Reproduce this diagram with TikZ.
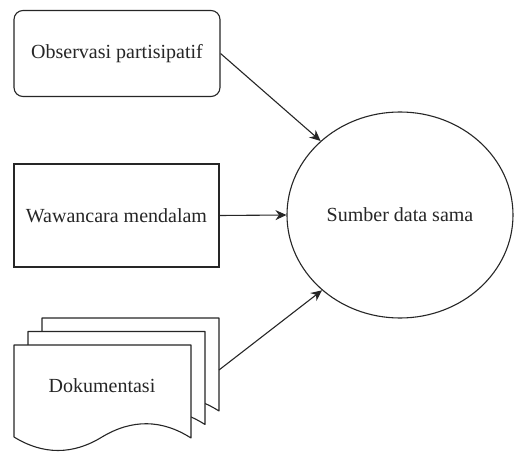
\documentclass[tikz,border=0pt]{standalone}
\usepackage{fontspec}
\setmainfont{Liberation Serif}
\newfontfamily\diagfont{Liberation Serif}
\usetikzlibrary{shapes.geometric,arrows.meta}
\begin{document}
\begin{tikzpicture}[x=1pt,y=-1pt,
  every node/.style={font=\diagfont\fontsize{20}{24}\selectfont, inner sep=0pt, text=black!85},
  box/.style={draw=black!85, line width=1.1pt, fill=white},
  page/.style={draw=black!85, line width=1.1pt, fill=white, line join=round},
  conn/.style={draw=black!85, line width=1.1pt, -{Stealth[length=11pt,width=10pt]}}]
\useasboundingbox (0,0) rectangle (515,452);
% pages of the document stack
\foreach \dx/\dy in {28/-27, 14/-13.5, 0/0}{
  \begin{scope}[shift={(\dx,\dy)}]
  \draw[page] (14,345) -- (191,345) -- (191,438)
    .. controls (161.7,419.3) and (132,419) .. (102,437)
    .. controls (72.7,455) and (43.3,455) .. (14,437) -- cycle;
  \end{scope}
}
\node (doc) at (102,386) {Dokumentasi};
\coordinate (docR) at (219,370);
\node[box, rounded corners=9pt, minimum width=206pt, minimum height=86pt] (obs) at (117,53.5) {Observasi partisipatif};
\node[box, minimum width=205pt, minimum height=103pt] (waw) at (116.5,215.5) {Wawancara mendalam};
\node[box, ellipse, minimum width=226pt, minimum height=206pt] (sum) at (400,215) {Sumber data sama};
\draw[conn] (obs.east) -- (sum.137);
\draw[conn] (waw.east) -- (sum.west);
\draw[conn] (docR) -- (sum.224);
\end{tikzpicture}
\end{document}
